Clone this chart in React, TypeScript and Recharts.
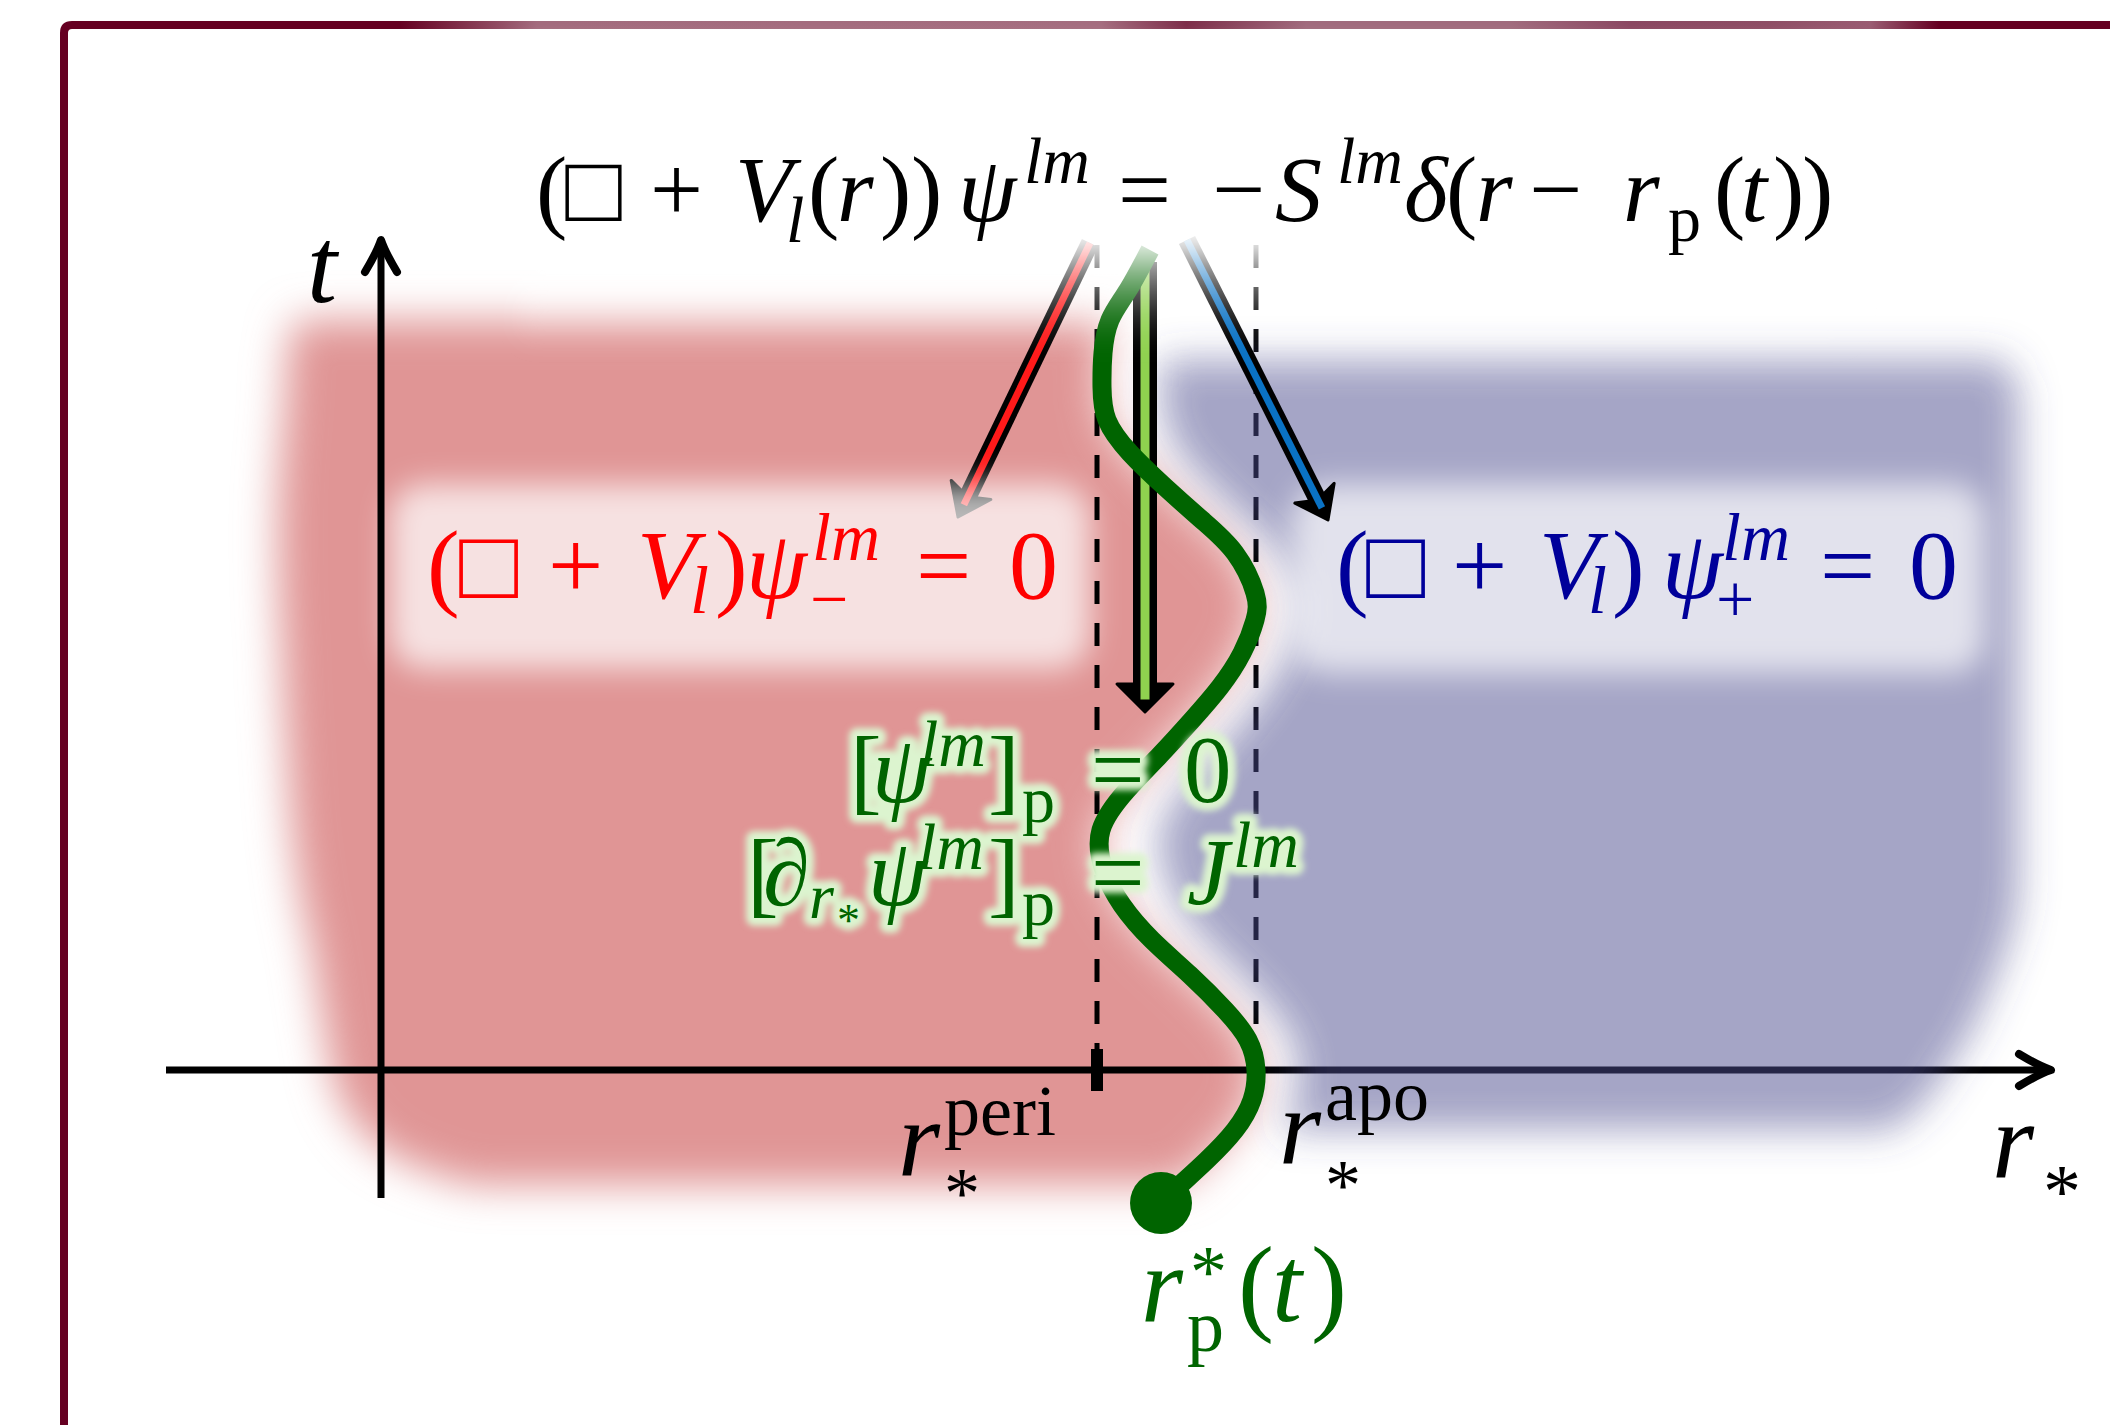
import React from "react";
import {
  ComposedChart,
  Line,
  Area,
  XAxis,
  YAxis,
  ReferenceLine,
  ReferenceDot,
  ReferenceArea,
} from "recharts";

const W = 2110;
const H = 1425;
const FONT = '"Liberation Serif", "DejaVu Serif", serif';
const GREEN = "#006400";

// orbit r*_p(t) (r* to the right, t upwards)
const trajT = [8.2, 7.8, 7.5, 7.17, 6.83, 6.5, 6.17, 5.83, 5.5, 5.17, 4.77, 4.5, 4.17, 3.83, 3.5, 3.15, 2.8, 2.4, 2.0, 1.65, 1.3, 0.95, 0.6, 0.3, 0.0, -0.3, -0.6, -0.9, -1.15, -1.33];
const trajR = [7.69, 7.47, 7.29, 7.22, 7.21, 7.26, 7.49, 7.84, 8.21, 8.54, 8.74, 8.74, 8.61, 8.39, 8.11, 7.79, 7.46, 7.2, 7.23, 7.41, 7.71, 8.09, 8.44, 8.67, 8.75, 8.71, 8.54, 8.26, 7.99, 7.8];

// left edge of the red (inner) region, for t = 7.5 ... -1.15
const redLeftR = [-0.86, -0.93, -0.95, -0.97, -1.0, -1.02, -1.03, -1.03, -1.02, -1.01, -0.99, -0.98, -0.96, -0.94, -0.92, -0.89, -0.84, -0.79, -0.71, -0.65, -0.6, -0.55, -0.5, -0.4, -0.2, 0.2, 0.9];

// the blue (outer) region: where it starts right of the orbit, and its right edge
const blueT = [7.1, 6.83, 6.5, 6.17, 5.83, 5.5, 5.17, 4.77, 4.5, 4.17, 3.83, 3.5, 3.15, 2.8, 2.4, 2.0, 1.65, 1.3, 0.95, 0.6, 0.3, 0.0, -0.3, -0.6];
const blueR = [7.8, 7.8, 7.84, 7.99, 8.29, 8.64, 8.97, 9.16, 9.16, 9.06, 8.87, 8.62, 8.32, 8.02, 7.79, 7.82, 7.97, 8.24, 8.59, 8.91, 9.11, 9.17, 9.14, 8.99];
const blueRightR = [16.2, 16.36, 16.38, 16.38, 16.38, 16.38, 16.38, 16.38, 16.38, 16.38, 16.38, 16.38, 16.38, 16.38, 16.38, 16.38, 16.36, 16.28, 16.15, 16.0, 15.85, 15.65, 15.45, 15.1];

const rPeri = 7.16;
const rApo = 8.75;

const orbit = trajT.map((t, i) => ({ t, r: trajR[i] }));
const redEdge = orbit
  .filter((p) => p.t <= 7.5 && p.t >= -1.15)
  .map((p, i) => ({ t: p.t, band: [redLeftR[i], p.r] }));
const blueEdge = blueT.map((t, i) => ({ t, band: [blueRightR[i], blueR[i]] }));

type Seg = { s: string; x: number; y?: number; it?: boolean; fs?: number };

function MathText({ x, y, segs, fs, fill, glow }: { x: number; y: number; segs: Seg[]; fs: number; fill: string; glow?: boolean }) {
  const spans = segs.map((g, i) => (
    <tspan key={i} x={x + g.x} y={y + (g.y ?? 0)} fontStyle={g.it ? "italic" : "normal"} fontSize={g.fs ?? fs}>
      {g.s}
    </tspan>
  ));
  return (
    <g>
      {glow && (
        <text fontFamily={FONT} fontSize={fs} fill="#dcf4cf" stroke="#dcf4cf" strokeWidth={16} strokeLinejoin="round" filter="url(#glow)">
          {spans}
        </text>
      )}
      <text fontFamily={FONT} fontSize={fs} fill={fill}>
        {spans}
      </text>
    </g>
  );
}

const textAt = (segs: Seg[], fs: number, fill: string, glow = false) => (p: any) => (
  <MathText x={p.cx} y={p.cy} segs={segs} fs={fs} fill={fill} glow={glow} />
);

// main equation (scripts 66px)
const mainEq: Seg[] = [
  { s: "(", x: 2 }, { s: "\u25A1", x: 31 }, { s: "+", x: 116 }, { s: "V", x: 201, it: true },
  { s: "l", x: 252, y: 21, it: true, fs: 66 }, { s: "(", x: 274 }, { s: "r", x: 303, it: true },
  { s: ")", x: 346 }, { s: ")", x: 377 }, { s: "\u03C8", x: 424, it: true },
  { s: "lm", x: 490, y: -38, it: true, fs: 66 }, { s: "=", x: 584 }, { s: "\u2212", x: 678 },
  { s: "S", x: 741, it: true }, { s: "lm", x: 803, y: -38, it: true, fs: 66 }, { s: "\u03B4", x: 870, it: true },
  { s: "(", x: 912 }, { s: "r", x: 942, it: true }, { s: "\u2212", x: 995 }, { s: "r", x: 1089, it: true },
  { s: "p", x: 1134, y: 20, fs: 66 }, { s: "(", x: 1180 }, { s: "t", x: 1207, it: true },
  { s: ")", x: 1239 }, { s: ")", x: 1268 },
];

const redEq: Seg[] = [
  { s: "(", x: 3 }, { s: "\u25A1", x: 35 }, { s: "+", x: 124 }, { s: "V", x: 213, it: true },
  { s: "l", x: 266, y: 15, it: true, fs: 68 }, { s: ")", x: 291 }, { s: "\u03C8", x: 322, it: true },
  { s: "lm", x: 388, y: -38, it: true, fs: 68 }, { s: "\u2212", x: 386, y: 24, fs: 68 },
  { s: "=", x: 492 }, { s: "0", x: 585 },
];

const blueEq: Seg[] = [
  { s: "(", x: 4 }, { s: "\u25A1", x: 34 }, { s: "+", x: 120 }, { s: "V", x: 207, it: true },
  { s: "l", x: 256, y: 15, it: true, fs: 68 }, { s: ")", x: 280 }, { s: "\u03C8", x: 330, it: true },
  { s: "lm", x: 390, y: -38, it: true, fs: 68 }, { s: "+", x: 384, y: 24, fs: 68 },
  { s: "=", x: 488 }, { s: "0", x: 577 },
];

const jump1: Seg[] = [
  { s: "[", x: 0 }, { s: "\u03C8", x: 22, it: true }, { s: "lm", x: 70, y: -36, it: true, fs: 66 },
  { s: "]", x: 138 }, { s: "p", x: 172, y: 20, fs: 66 }, { s: "=", x: 241 }, { s: "0", x: 334 },
];

const jump2: Seg[] = [
  { s: "[", x: 0 }, { s: "\u2202", x: 16, it: true }, { s: "r", x: 62, y: 13, it: true, fs: 64 },
  { s: "*", x: 90, y: 31, fs: 46 }, { s: "\u03C8", x: 121, it: true },
  { s: "lm", x: 171, y: -36, it: true, fs: 66 }, { s: "]", x: 241 }, { s: "p", x: 275, y: 20, fs: 66 },
  { s: "=", x: 344 }, { s: "J", x: 440, it: true }, { s: "lm", x: 486, y: -38, it: true, fs: 66 },
];

const orbitLabel: Seg[] = [
  { s: "r", x: 0, it: true }, { s: "*", x: 49, y: -24, fs: 74 }, { s: "p", x: 46, y: 30, fs: 74 },
  { s: "(", x: 97 }, { s: "t", x: 131, it: true }, { s: ")", x: 170 },
];

const periLabel: Seg[] = [
  { s: "r", x: 0, it: true }, { s: "peri", x: 46, y: -40, fs: 72 }, { s: "*", x: 46, y: 42, fs: 72 },
];
const apoLabel: Seg[] = [
  { s: "r", x: 0, it: true }, { s: "apo", x: 46, y: -43, fs: 72 }, { s: "*", x: 46, y: 46, fs: 72 },
];
const rLabel: Seg[] = [{ s: "r", x: 0, it: true }, { s: "*", x: 51, y: 40, fs: 76 }];
const tLabel: Seg[] = [{ s: "t", x: 0, it: true }];

const axisArrow = (p: any) => {
  const { x1, y1, x2, y2 } = p;
  const L = Math.hypot(x2 - x1, y2 - y1);
  const ux = (x2 - x1) / L;
  const uy = (y2 - y1) / L;
  const nx = -uy;
  const ny = ux;
  const bx = x2 - ux * 32;
  const by = y2 - uy * 32;
  return (
    <g>
      <line x1={x1} y1={y1} x2={x2 - ux * 3} y2={y2 - uy * 3} stroke="#000" strokeWidth={7} />
      <path
        d={`M${bx + nx * 16},${by + ny * 16} Q${x2 - ux * 12 + nx * 4},${y2 - uy * 12 + ny * 4} ${x2},${y2} Q${x2 - ux * 12 - nx * 4},${y2 - uy * 12 - ny * 4} ${bx - nx * 16},${by - ny * 16}`}
        fill="none"
        stroke="#000"
        strokeWidth={8}
        strokeLinecap="round"
        strokeLinejoin="round"
      />
    </g>
  );
};

const fatArrow = (color: string, outer: number, inner: number, headLen: number, headHalf: number, notch: number) => (p: any) => {
  const { x1, y1, x2, y2 } = p;
  const L = Math.hypot(x2 - x1, y2 - y1);
  const ux = (x2 - x1) / L;
  const uy = (y2 - y1) / L;
  const nx = -uy;
  const ny = ux;
  const bx = x2 - ux * headLen;
  const by = y2 - uy * headLen;
  const mx = x2 - ux * headLen * notch;
  const my = y2 - uy * headLen * notch;
  const head = `${x2},${y2} ${bx + nx * headHalf},${by + ny * headHalf} ${mx},${my} ${bx - nx * headHalf},${by - ny * headHalf}`;
  return (
    <g>
      <line x1={x1} y1={y1} x2={mx} y2={my} stroke="#000" strokeWidth={outer} />
      <polygon points={head} fill="#000" stroke="#000" strokeWidth={3} strokeLinejoin="round" />
      <line x1={x1} y1={y1} x2={x2 - ux * headLen * 0.45} y2={y2 - uy * headLen * 0.45} stroke={color} strokeWidth={inner} />
    </g>
  );
};

const softBox = (opacity: number) => (p: any) => (
  <rect x={p.x} y={p.y} width={p.width} height={p.height} rx={34} fill="#fff" fillOpacity={opacity} filter="url(#blurBox)" />
);

const topFade = (p: any) => (
  <rect x={p.x} y={p.y} width={p.width} height={p.height} fill="url(#fadeGrad)" filter="url(#blurFade)" />
);

export default function App() {
  return (
    <div style={{ position: "absolute", left: 0, top: 0, width: W, height: H, background: "#fff", overflow: "hidden" }}>
      <style>{`.red-blob{filter:url(#blurRed)} .blue-blob{filter:url(#blurBlue)}`}</style>
      <svg width={W} height={H} style={{ position: "absolute", left: 0, top: 0 }}>
        <defs>
          <filter id="blurRed" x="-30%" y="-30%" width="160%" height="160%">
            <feGaussianBlur stdDeviation={21} />
          </filter>
          <filter id="blurBlue" x="-30%" y="-30%" width="160%" height="160%">
            <feGaussianBlur stdDeviation={19} />
          </filter>
          <filter id="blurBox" x="-30%" y="-30%" width="160%" height="160%">
            <feGaussianBlur stdDeviation={15} />
          </filter>
          <filter id="blurFade" x="-30%" y="-30%" width="160%" height="160%">
            <feGaussianBlur stdDeviation={12} />
          </filter>
          <filter id="glow" x="-20%" y="-40%" width="140%" height="180%">
            <feGaussianBlur stdDeviation={3} />
          </filter>
          <linearGradient id="fadeGrad" x1="0" y1="0" x2="0" y2="1">
            <stop offset="0" stopColor="#fff" stopOpacity={1} />
            <stop offset="0.56" stopColor="#fff" stopOpacity={1} />
            <stop offset="0.68" stopColor="#fff" stopOpacity={0.5} />
            <stop offset="0.8" stopColor="#fff" stopOpacity={0.15} />
            <stop offset="0.9" stopColor="#fff" stopOpacity={0} />
            <stop offset="1" stopColor="#fff" stopOpacity={0} />
          </linearGradient>
          <linearGradient id="topBorder" gradientUnits="userSpaceOnUse" x1={400} y1={0} x2={2110} y2={0}>
            <stop offset="0" stopColor="#660022" />
            <stop offset="0.08" stopColor="#a26a7c" />
            <stop offset="0.41" stopColor="#a46c7e" />
            <stop offset="0.46" stopColor="#7c2c48" />
            <stop offset="0.53" stopColor="#a06a7c" />
            <stop offset="0.65" stopColor="#a06a7c" />
            <stop offset="0.72" stopColor="#8a4660" />
            <stop offset="0.8" stopColor="#8e4d64" />
            <stop offset="0.86" stopColor="#9a5c72" />
            <stop offset="0.9" stopColor="#660022" />
            <stop offset="1" stopColor="#660022" />
          </linearGradient>
        </defs>
        <path d="M64 1425 V33 Q64 25 72 25 H400" fill="none" stroke="#660022" strokeWidth={8} />
        <line x1={400} y1={25} x2={W} y2={25} stroke="url(#topBorder)" strokeWidth={8} />
      </svg>
      <div style={{ position: "absolute", left: 0, top: 0 }}>
        <ComposedChart layout="vertical" width={W} height={H} margin={{ top: 0, right: 0, bottom: 0, left: 0 }}>
          <XAxis type="number" domain={[-3.81, 17.29]} hide allowDataOverflow />
          <YAxis type="number" dataKey="t" domain={[-3.55, 10.7]} hide allowDataOverflow reversed />

          <Area data={redEdge} dataKey="band" type="natural" fill="#e09595" fillOpacity={1} stroke="none" className="red-blob" isAnimationActive={false} zIndex={10} />

          <ReferenceLine segment={[{ x: 7.09, y: 8.27 }, { x: 5.77, y: 5.53 }]} shape={fatArrow("#ff1a1a", 18, 7, 30, 22, 0.75)} zIndex={15} />
          <ReferenceArea x1={0.09} x2={7.09} y1={4.01} y2={5.86} shape={softBox(0.72)} zIndex={20} />

          <ReferenceLine segment={[{ x: -2.15, y: 0 }, { x: 16.7, y: 0 }]} shape={axisArrow} zIndex={30} />
          <ReferenceLine segment={[{ x: 0, y: -1.28 }, { x: 0, y: 8.3 }]} shape={axisArrow} zIndex={30} />
          <ReferenceLine segment={[{ x: rPeri, y: 8.25 }, { x: rPeri, y: 0 }]} stroke="#000" strokeWidth={5} strokeDasharray="23 19" zIndex={30} />
          <ReferenceLine segment={[{ x: rApo, y: 8.25 }, { x: rApo, y: 0 }]} stroke="#000" strokeWidth={5} strokeDasharray="23 19" zIndex={30} />
          <ReferenceLine segment={[{ x: rPeri, y: 0.21 }, { x: rPeri, y: -0.21 }]} stroke="#000" strokeWidth={12} zIndex={31} />
          <ReferenceLine segment={[{ x: rApo, y: 0.21 }, { x: rApo, y: -0.21 }]} stroke="#000" strokeWidth={12} zIndex={31} />

          <Area data={blueEdge} dataKey="band" type="natural" fill="#4b4b8e" fillOpacity={0.5} stroke="none" className="blue-blob" isAnimationActive={false} zIndex={40} />
          <ReferenceArea x1={9.11} x2={16.04} y1={3.97} y2={5.86} shape={softBox(0.68)} zIndex={50} />

          <ReferenceLine segment={[{ x: 7.64, y: 8.08 }, { x: 7.64, y: 3.58 }]} shape={fatArrow("#8fd14f", 24, 9, 28, 28, 1)} zIndex={55} />
          <ReferenceLine segment={[{ x: 8.06, y: 8.3 }, { x: 9.47, y: 5.5 }]} shape={fatArrow("#0a72c4", 18, 7, 30, 22, 0.75)} zIndex={55} />

          <Line data={orbit} dataKey="r" type="natural" stroke={GREEN} strokeWidth={19} dot={false} activeDot={false} isAnimationActive={false} zIndex={60} />
          <ReferenceDot x={7.8} y={-1.33} r={31} fill={GREEN} stroke="none" zIndex={65} />

          <ReferenceArea x1={1.4} x2={14.7} y1={6.9} y2={10.2} shape={topFade} zIndex={70} />

          <ReferenceDot x={1.53} y={8.49} r={0} shape={textAt(mainEq, 94, "#000")} zIndex={80} />
          <ReferenceDot x={0.43} y={4.72} r={0} shape={textAt(redEq, 98, "#ff0000")} zIndex={80} />
          <ReferenceDot x={9.51} y={4.72} r={0} shape={textAt(blueEq, 98, "#00009a")} zIndex={80} />
          <ReferenceDot x={4.69} y={2.68} r={0} shape={textAt(jump1, 95, GREEN, true)} zIndex={80} />
          <ReferenceDot x={3.66} y={1.65} r={0} shape={textAt(jump2, 95, GREEN, true)} zIndex={80} />
          <ReferenceDot x={7.6} y={-2.51} r={0} shape={textAt(orbitLabel, 108, GREEN)} zIndex={80} />
          <ReferenceDot x={5.17} y={-1.05} r={0} shape={textAt(periLabel, 108, "#000")} zIndex={80} />
          <ReferenceDot x={8.98} y={-0.93} r={0} shape={textAt(apoLabel, 108, "#000")} zIndex={80} />
          <ReferenceDot x={16.11} y={-1.07} r={0} shape={textAt(rLabel, 108, "#000")} zIndex={80} />
          <ReferenceDot x={-0.74} y={7.68} r={0} shape={textAt(tLabel, 108, "#000")} zIndex={80} />
        </ComposedChart>
      </div>
    </div>
  );
}
